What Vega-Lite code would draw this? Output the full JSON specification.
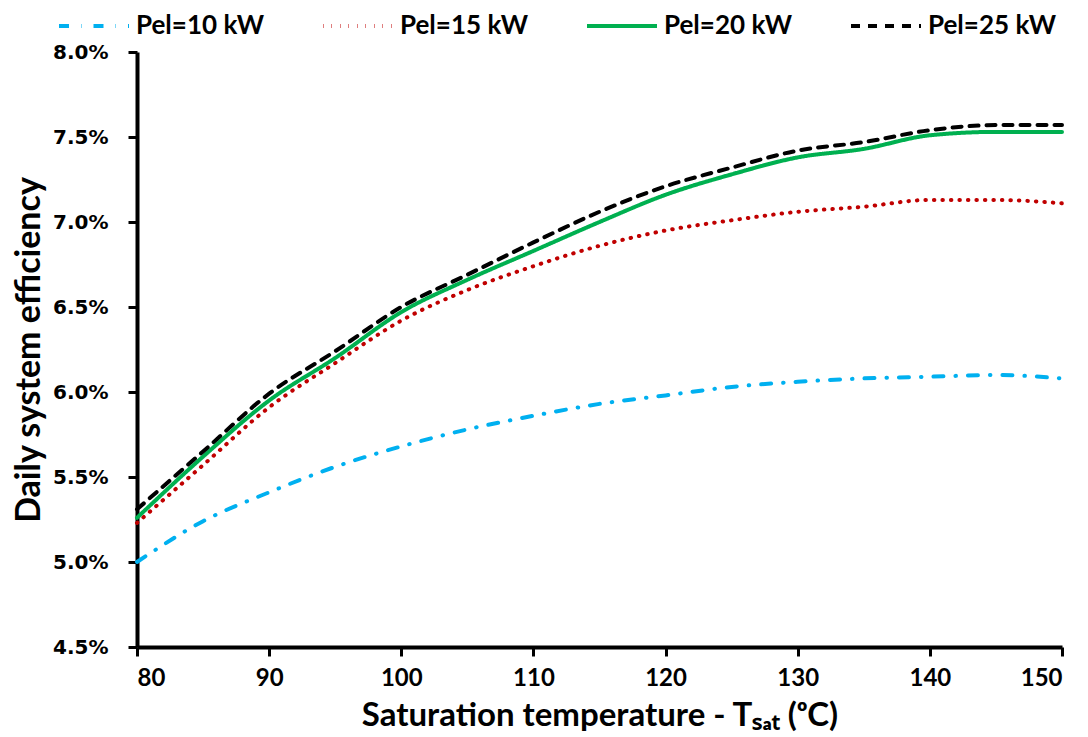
{
  "$schema": "https://vega.github.io/schema/vega-lite/v6.json",
  "width": 925,
  "height": 595,
  "autosize": {"type": "none"},
  "padding": {"left": 137, "top": 52, "right": 26, "bottom": 90},
  "background": "white",
  "config": {"view": {"stroke": null}},
  "data": {
    "values": [
      {"series": "Pel=10 kW", "T": 80, "eff": 0.0500},
      {"series": "Pel=10 kW", "T": 85, "eff": 0.0524},
      {"series": "Pel=10 kW", "T": 90, "eff": 0.0541},
      {"series": "Pel=10 kW", "T": 95, "eff": 0.0556},
      {"series": "Pel=10 kW", "T": 100, "eff": 0.0568},
      {"series": "Pel=10 kW", "T": 105, "eff": 0.0578},
      {"series": "Pel=10 kW", "T": 110, "eff": 0.0586},
      {"series": "Pel=10 kW", "T": 115, "eff": 0.0593},
      {"series": "Pel=10 kW", "T": 120, "eff": 0.0598},
      {"series": "Pel=10 kW", "T": 125, "eff": 0.0603},
      {"series": "Pel=10 kW", "T": 130, "eff": 0.0606},
      {"series": "Pel=10 kW", "T": 135, "eff": 0.0608},
      {"series": "Pel=10 kW", "T": 140, "eff": 0.0609},
      {"series": "Pel=10 kW", "T": 145, "eff": 0.0610},
      {"series": "Pel=10 kW", "T": 150, "eff": 0.0608},
      {"series": "Pel=15 kW", "T": 80, "eff": 0.0523},
      {"series": "Pel=15 kW", "T": 85, "eff": 0.0557},
      {"series": "Pel=15 kW", "T": 90, "eff": 0.0591},
      {"series": "Pel=15 kW", "T": 95, "eff": 0.0617},
      {"series": "Pel=15 kW", "T": 100, "eff": 0.0642},
      {"series": "Pel=15 kW", "T": 105, "eff": 0.0660},
      {"series": "Pel=15 kW", "T": 110, "eff": 0.0674},
      {"series": "Pel=15 kW", "T": 115, "eff": 0.0686},
      {"series": "Pel=15 kW", "T": 120, "eff": 0.0695},
      {"series": "Pel=15 kW", "T": 125, "eff": 0.0701},
      {"series": "Pel=15 kW", "T": 130, "eff": 0.0706},
      {"series": "Pel=15 kW", "T": 135, "eff": 0.0709},
      {"series": "Pel=15 kW", "T": 140, "eff": 0.0713},
      {"series": "Pel=15 kW", "T": 145, "eff": 0.0713},
      {"series": "Pel=15 kW", "T": 150, "eff": 0.0711},
      {"series": "Pel=20 kW", "T": 80, "eff": 0.0526},
      {"series": "Pel=20 kW", "T": 85, "eff": 0.0562},
      {"series": "Pel=20 kW", "T": 90, "eff": 0.0595},
      {"series": "Pel=20 kW", "T": 95, "eff": 0.0620},
      {"series": "Pel=20 kW", "T": 100, "eff": 0.0647},
      {"series": "Pel=20 kW", "T": 105, "eff": 0.0666},
      {"series": "Pel=20 kW", "T": 110, "eff": 0.0683},
      {"series": "Pel=20 kW", "T": 115, "eff": 0.0700},
      {"series": "Pel=20 kW", "T": 120, "eff": 0.0716},
      {"series": "Pel=20 kW", "T": 125, "eff": 0.0728},
      {"series": "Pel=20 kW", "T": 130, "eff": 0.0738},
      {"series": "Pel=20 kW", "T": 135, "eff": 0.0743},
      {"series": "Pel=20 kW", "T": 140, "eff": 0.0751},
      {"series": "Pel=20 kW", "T": 145, "eff": 0.0753},
      {"series": "Pel=20 kW", "T": 150, "eff": 0.0753},
      {"series": "Pel=25 kW", "T": 80, "eff": 0.0531},
      {"series": "Pel=25 kW", "T": 85, "eff": 0.0565},
      {"series": "Pel=25 kW", "T": 90, "eff": 0.0599},
      {"series": "Pel=25 kW", "T": 95, "eff": 0.0624},
      {"series": "Pel=25 kW", "T": 100, "eff": 0.0650},
      {"series": "Pel=25 kW", "T": 105, "eff": 0.0669},
      {"series": "Pel=25 kW", "T": 110, "eff": 0.0688},
      {"series": "Pel=25 kW", "T": 115, "eff": 0.0706},
      {"series": "Pel=25 kW", "T": 120, "eff": 0.0721},
      {"series": "Pel=25 kW", "T": 125, "eff": 0.0732},
      {"series": "Pel=25 kW", "T": 130, "eff": 0.0742},
      {"series": "Pel=25 kW", "T": 135, "eff": 0.0747},
      {"series": "Pel=25 kW", "T": 140, "eff": 0.0754},
      {"series": "Pel=25 kW", "T": 145, "eff": 0.0757},
      {"series": "Pel=25 kW", "T": 150, "eff": 0.0757}
    ]
  },
  "mark": {"type": "line", "interpolate": "monotone", "strokeWidth": 4, "strokeCap": "round", "clip": false},
  "encoding": {
    "x": {
      "field": "T",
      "type": "quantitative",
      "scale": {"domain": [80, 150], "nice": false},
      "axis": {
        "values": [80, 90, 100, 110, 120, 130, 140, 150],
        "title": "Saturation temperature - Tₛₐₜ (ᵒC)",
        "grid": false,
        "domainColor": "black",
        "domainWidth": 4,
        "tickColor": "black",
        "tickWidth": 3,
        "tickSize": 9,
        "labelFont": "Lato",
        "labelFontWeight": "bold",
        "labelFontSize": 24,
        "labelColor": "black",
        "labelPadding": 10,
        "titleFont": "Lato",
        "titleFontWeight": "bold",
        "titleFontSize": 33,
        "titleColor": "black",
        "titlePadding": 9
      }
    },
    "y": {
      "field": "eff",
      "type": "quantitative",
      "scale": {"domain": [0.045, 0.08], "nice": false, "zero": false},
      "axis": {
        "values": [0.045, 0.05, 0.055, 0.06, 0.065, 0.07, 0.075, 0.08],
        "format": ".1%",
        "title": "Daily system efficiency",
        "grid": false,
        "domainColor": "black",
        "domainWidth": 4,
        "tickColor": "black",
        "tickWidth": 3,
        "tickSize": 9,
        "labelFont": "DejaVu Sans",
        "labelFontWeight": "bold",
        "labelFontSize": 20,
        "labelColor": "black",
        "labelPadding": 20,
        "titleFont": "Lato",
        "titleFontWeight": "bold",
        "titleFontSize": 34,
        "titleColor": "black",
        "titlePadding": 6
      }
    },
    "color": {
      "field": "series",
      "type": "nominal",
      "scale": {
        "domain": ["Pel=10 kW", "Pel=15 kW", "Pel=20 kW", "Pel=25 kW"],
        "range": ["#00B0F0", "#C00000", "#00B050", "#000000"]
      },
      "legend": {
        "orient": "none",
        "legendX": -80,
        "legendY": -63,
        "direction": "horizontal",
        "columns": 4,
        "title": null,
        "symbolType": "stroke",
        "symbolSize": 4900,
        "symbolStrokeWidth": 4,
        "labelFont": "Lato",
        "labelFontWeight": "bold",
        "labelFontSize": 26,
        "labelColor": "black",
        "labelLimit": 250,
        "columnPadding": 51,
        "labelOffset": 5
      }
    },
    "strokeDash": {
      "field": "series",
      "type": "nominal",
      "scale": {
        "domain": ["Pel=10 kW", "Pel=15 kW", "Pel=20 kW", "Pel=25 kW"],
        "range": [[10, 12, 0.5, 12], [0.5, 8], [1, 0], [9, 8]]
      },
      "legend": null
    }
  }
}
